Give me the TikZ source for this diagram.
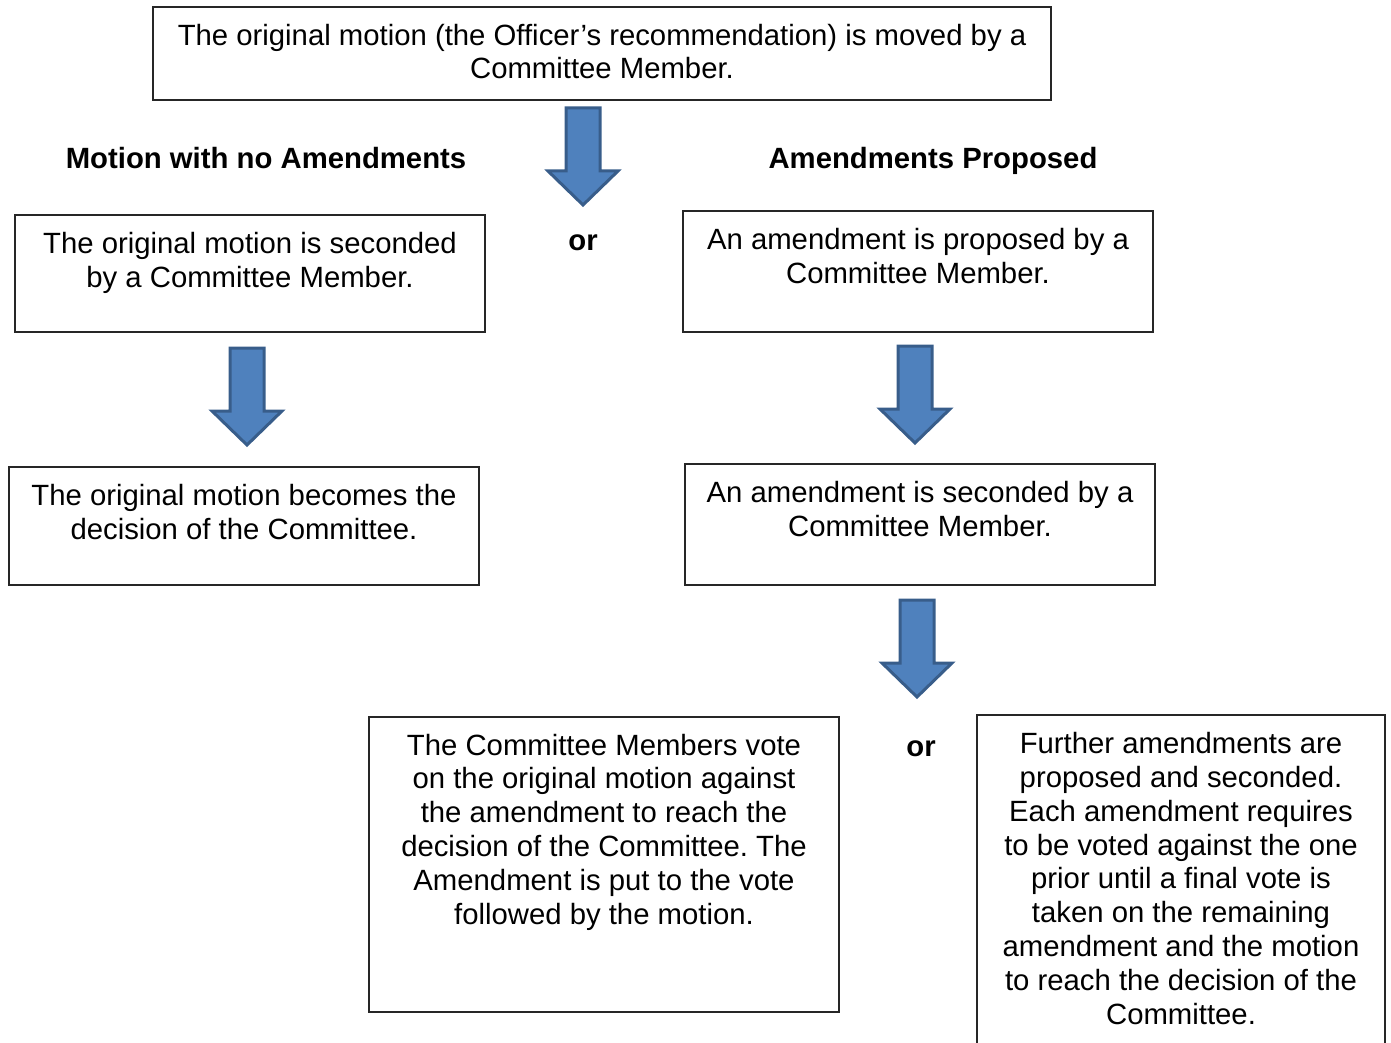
\documentclass[tikz,border=0pt]{standalone}
\usepackage{fontspec}
\setmainfont{Liberation Sans}
\frenchspacing
\begin{document}
\begin{tikzpicture}[x=1pt,y=-1pt,
  box/.style={draw=black!85,line width=1.3pt,rectangle,inner sep=0pt},
  txt/.style={align=center,inner sep=0pt,font=\fontsize{29.3}{33.8}\selectfont},
  head/.style={inner sep=0pt,font=\fontsize{29.3}{34}\selectfont\bfseries},
  pics/downarrow/.style={code={
    \draw[fill=arrowfill,draw=arrowedge,line width=3pt,line join=miter]
      (-17,0) -- (17,0) -- (17,63) -- (35,63) -- (0,97) -- (-35,63) -- (-17,63) -- cycle;}}]
\definecolor{arrowfill}{HTML}{4F81BD}
\definecolor{arrowedge}{HTML}{385D8A}
\useasboundingbox (0,0) rectangle (1391,1043);
\clip (0,0) rectangle (1391,1043);

% boxes
\node[box,minimum width=898,minimum height=93]  (top) at (602,53.5) {};
\node[box,minimum width=470,minimum height=117] (sec) at (250,273.5) {};
\node[box,minimum width=470,minimum height=118] (dec) at (244,526) {};
\node[box,minimum width=470,minimum height=121] (prop) at (918,271.5) {};
\node[box,minimum width=470,minimum height=121] (asec) at (920,524.5) {};
\node[box,minimum width=470,minimum height=295] (vote) at (604,864.5) {};
\node[box,minimum width=408,minimum height=360] (further) at (1181,895) {};

% box texts (anchored at the last baseline)
\node[txt,anchor=base] (ttop) at (602,79) {The original motion (the Officer’s recommendation) is moved by a\\Committee Member.};
\node[txt,anchor=base] (tsec) at (250,287) {The original motion is seconded\\by a Committee Member.};
\node[txt,anchor=base] (tdec) at (244,539) {The original motion becomes the\\decision of the Committee.};
\node[txt,anchor=base] (tprop) at (918,283) {An amendment is proposed by a\\Committee Member.};
\node[txt,anchor=base] (tasec) at (920,536) {An amendment is seconded by a\\Committee Member.};
\node[txt,anchor=base] (tvote) at (604,924) {The Committee Members vote\\on the original motion against\\the amendment to reach the\\decision of the Committee. The\\Amendment is put to the vote\\followed by the motion.};
\node[txt,anchor=base] (tfurther) at (1181,1024) {Further amendments are\\proposed and seconded.\\Each amendment requires\\to be voted against the one\\prior until a final vote is\\taken on the remaining\\amendment and the motion\\to reach the decision of the\\Committee.};

% headings and separators
\node[head,anchor=base] (hleft) at (266,168) {Motion with no Amendments};
\node[head,anchor=base] (hright) at (933,168) {Amendments Proposed};
\node[head,anchor=base] (or1) at (583,250) {or};
\node[head,anchor=base] (or2) at (921,756) {or};

% block arrows
\pic at (583,108) {downarrow};
\pic at (247,348) {downarrow};
\pic at (915,346) {downarrow};
\pic at (917,600) {downarrow};
\end{tikzpicture}
\end{document}
